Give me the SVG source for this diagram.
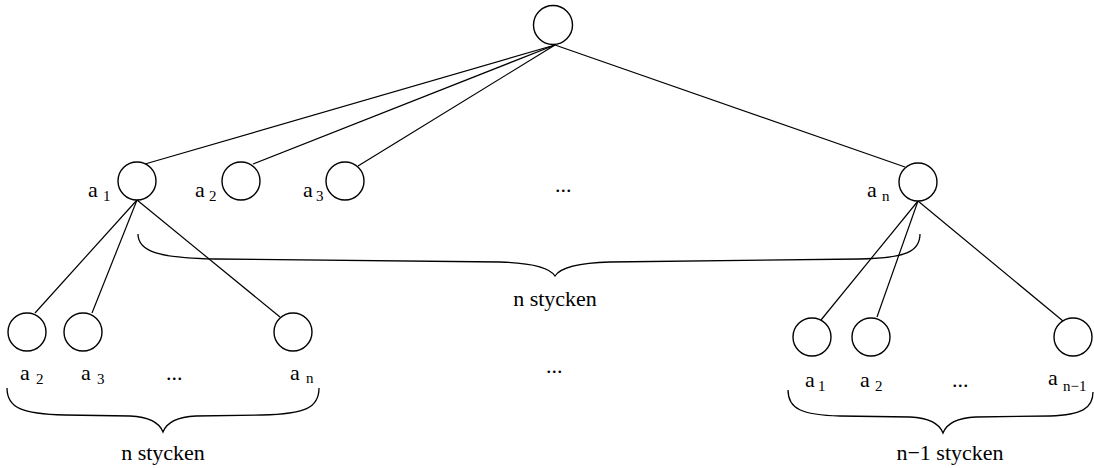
<svg xmlns="http://www.w3.org/2000/svg" width="1094" height="468" viewBox="0 0 1094 468" font-family="'Liberation Serif', 'Times New Roman', 'DejaVu Serif', serif">
  <style>
    .node { fill: #ffffff; stroke: #000000; stroke-width: 1.4; }
    .edge { stroke: #000000; stroke-width: 1.2; fill: none; }
    .brace { stroke: #000000; stroke-width: 1.3; fill: none; }
    text { font-family: 'Liberation Serif', 'Times New Roman', 'DejaVu Serif', serif; font-size: 22px; fill: #000000; }
    .sub { font-size: 15px; }
    .mid { text-anchor: middle; }
  </style>

  <!-- tree edges -->
  <g id="connectors">
    <line class="edge" x1="555" y1="45" x2="145" y2="164"/>
    <line class="edge" x1="555" y1="45" x2="253" y2="164"/>
    <line class="edge" x1="555" y1="45" x2="358" y2="166"/>
    <line class="edge" x1="555" y1="45" x2="905" y2="167"/>
    <line class="edge" x1="137" y1="200" x2="35" y2="313"/>
    <line class="edge" x1="137" y1="200" x2="92" y2="313"/>
    <line class="edge" x1="137" y1="200" x2="280" y2="317"/>
    <line class="edge" x1="918" y1="201" x2="821" y2="320"/>
    <line class="edge" x1="918" y1="201" x2="877" y2="317"/>
    <line class="edge" x1="918" y1="201" x2="1063" y2="321"/>
  </g>

  <!-- root -->
  <g id="root"><circle class="node" cx="553" cy="25" r="19.5"/></g>

  <!-- first level -->
  <g id="n-a1">
    <circle class="node" cx="137" cy="181" r="19"/>
    <text x="88" y="197">a<tspan class="sub" x="103" y="201">1</tspan></text>
  </g>
  <g id="n-a2">
    <circle class="node" cx="241" cy="181" r="19"/>
    <text x="195" y="197">a<tspan class="sub" x="209" y="201">2</tspan></text>
  </g>
  <g id="n-a3">
    <circle class="node" cx="345" cy="181" r="19"/>
    <text x="303" y="197">a<tspan class="sub" x="316" y="201">3</tspan></text>
  </g>
  <g id="n-an">
    <circle class="node" cx="918" cy="182" r="19"/>
    <text x="867" y="197">a<tspan class="sub" x="882" y="201">n</tspan></text>
  </g>
  <text x="555" y="192">...</text>

  <!-- children of a1 -->
  <g id="l-a2">
    <circle class="node" cx="27" cy="332" r="19"/>
    <text x="20" y="380">a<tspan class="sub" x="36" y="384">2</tspan></text>
  </g>
  <g id="l-a3">
    <circle class="node" cx="83" cy="332" r="19"/>
    <text x="81" y="380">a<tspan class="sub" x="97" y="384">3</tspan></text>
  </g>
  <text x="166" y="380">...</text>
  <g id="l-an">
    <circle class="node" cx="293" cy="332" r="19"/>
    <text x="290" y="380">a<tspan class="sub" x="306" y="383">n</tspan></text>
  </g>

  <!-- children of an -->
  <g id="r-a1">
    <circle class="node" cx="812" cy="337" r="19"/>
    <text x="805" y="387">a<tspan class="sub" x="818" y="391">1</tspan></text>
  </g>
  <g id="r-a2">
    <circle class="node" cx="871" cy="337" r="19"/>
    <text x="860" y="387">a<tspan class="sub" x="875" y="391">2</tspan></text>
  </g>
  <text x="952" y="387">...</text>
  <g id="r-an1">
    <circle class="node" cx="1073" cy="337" r="19"/>
    <text x="1048" y="385">a<tspan class="sub" x="1063" y="391">n−1</tspan></text>
  </g>

  <!-- middle dots between subtrees -->
  <text x="546" y="373">...</text>

  <!-- braces and counts -->
  <g id="brace-top">
    <path class="brace" d="M 138 234 C 138 252, 160 258, 215 259 L 500 262 C 535 263, 550 268, 555 276 C 560 268, 575 263, 610 262 L 860 259 C 905 258, 920 252, 920 234"/>
    <text class="mid" x="555" y="306">n stycken</text>
  </g>
  <g id="brace-left">
    <path class="brace" d="M 7 388 C 7 408, 22 414, 65 415 L 130 416 C 150 417, 160 424, 163 432 C 166 424, 176 417, 196 416 L 262 415 C 305 414, 319 408, 319 388"/>
    <text class="mid" x="163" y="460">n stycken</text>
  </g>
  <g id="brace-right">
    <path class="brace" d="M 788 390 C 788 409, 802 415, 840 416 L 910 417 C 930 418, 940 425, 943 433 C 946 425, 956 418, 976 417 L 1050 416 C 1082 415, 1093 408, 1093 392"/>
    <text class="mid" x="950" y="460">n−1 stycken</text>
  </g>
</svg>
